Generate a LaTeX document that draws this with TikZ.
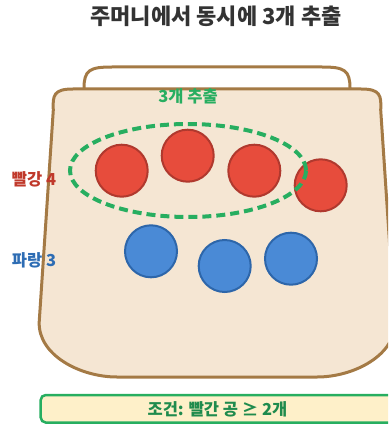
\documentclass[tikz,border=0pt]{standalone}
\usepackage{fontspec}
\setmainfont{Noto Sans CJK KR}
\usetikzlibrary{positioning}

\definecolor{bagfill}{HTML}{F5E6D3}
\definecolor{bagline}{HTML}{A47A45}
\definecolor{ballred}{HTML}{E74C3C}
\definecolor{ballredline}{HTML}{B0392E}
\definecolor{ballblue}{HTML}{4A8AD6}
\definecolor{ballblueline}{HTML}{2D66AA}
\definecolor{pickgreen}{HTML}{27AE60}
\definecolor{labelred}{HTML}{C0392B}
\definecolor{labelblue}{HTML}{2E6DB4}
\definecolor{notefill}{HTML}{FEF0C9}

\tikzset{
  redball/.style={circle, minimum size=52pt, inner sep=0pt, line width=2pt,
    fill=ballred, draw=ballredline},
  blueball/.style={circle, minimum size=52pt, inner sep=0pt, line width=2pt,
    fill=ballblue, draw=ballblueline},
  sidelabel/.style={font=\fontsize{16.5}{19}\selectfont\bfseries}
}

\begin{document}
\begin{tikzpicture}[x=1pt, y=-1pt]

  \useasboundingbox (0,0) rectangle (388,425);
  \clip (0,0) rectangle (388,425);

  % Title
  \node[font=\fontsize{22}{26}\selectfont\bfseries, text=black!80] (title) at (216,16)
    {주머니에서 동시에 3개 추출};

  % Handle
  \draw[bagline, line width=3pt] (84,90) -- (84,88) .. controls (84,70) and (90,67) .. (112,67)
    -- (322,67) .. controls (344,67) and (350,70) .. (350,88) -- (350,90);

  % Bag body
  \draw[bagline, line width=3pt, fill=bagfill]
    (73,89) -- (361,89) .. controls (380,89) and (381.5,95) .. (380.7,110)
    -- (394.8,322) .. controls (396,355) and (354,377) .. (317,377)
    -- (117,377) .. controls (80,377) and (38,355) .. (39.2,322)
    -- (53.3,110) .. controls (52.5,95) and (54,89) .. (73,89) -- cycle;

  % Label above the picked balls
  \node[sidelabel, text=pickgreen] (picklabel) at (188,96) {3개 추출};

  % Red balls
  \node[redball] (r1) at (121.7,170.7) {};
  \node[redball] (r2) at (187.7,155.7) {};
  \node[redball] (r3) at (254.3,170.7) {};
  \node[redball] (r4) at (320.7,185.3) {};

  % Blue balls
  \node[blueball] (b1) at (151,251.3) {};
  \node[blueball] (b2) at (224.7,266) {};
  \node[blueball] (b3) at (291,258.7) {};

  % Dashed ring round the three picked
  \draw[pickgreen, line width=4pt, dash pattern=on 9pt off 5pt]
    (188,170.5) ellipse [x radius=118, y radius=46.5];

  % Counts
  \node[sidelabel, text=labelred] (redcount) at (34,179) {빨강 4};
  \node[sidelabel, text=labelblue] (bluecount) at (34,260) {파랑 3};

  % Condition box
  \draw[pickgreen, line width=2.5pt, fill=notefill, rounded corners=5pt]
    (40.7,395) rectangle (394,422.5);
  \node[sidelabel, text=pickgreen!80!black] (cond) at (217.5,409) {조건: 빨간 공 ≥ 2개};

\end{tikzpicture}
\end{document}
